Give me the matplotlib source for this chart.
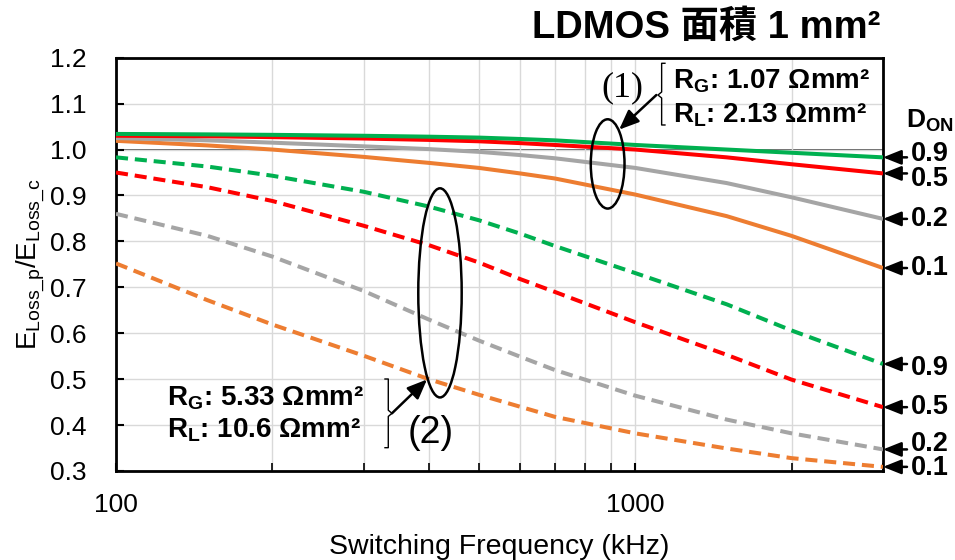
import numpy as np
import matplotlib
matplotlib.use('Agg')
import matplotlib.pyplot as plt
from matplotlib.patches import Ellipse
from matplotlib.ticker import FixedLocator, NullFormatter, FormatStrFormatter

plt.rcParams['font.family'] = ['Liberation Sans', 'DejaVu Sans']
plt.rcParams['mathtext.fontset'] = 'custom'
plt.rcParams['mathtext.rm'] = 'Liberation Sans'
plt.rcParams['mathtext.it'] = 'Liberation Sans:italic'
plt.rcParams['mathtext.bf'] = 'Liberation Sans:bold'

# switching frequency (kHz)
freq_khz = [100, 150, 200, 300, 400, 500, 600, 700, 1000, 1500, 2000, 3000]

# (1) RG = 1.07, RL = 2.13 Ohm mm2 (solid)
solid_09 = [1.034, 1.033, 1.032, 1.030, 1.028, 1.026, 1.023, 1.020, 1.010, 1.000, 0.993, 0.983]
solid_05 = [1.030, 1.029, 1.027, 1.024, 1.021, 1.018, 1.014, 1.010, 1.000, 0.983, 0.968, 0.948]
solid_02 = [1.025, 1.020, 1.015, 1.007, 1.001, 0.995, 0.988, 0.981, 0.960, 0.927, 0.896, 0.849]
solid_01 = [1.019, 1.009, 1.000, 0.984, 0.971, 0.960, 0.948, 0.937, 0.902, 0.855, 0.812, 0.742]

# (2) RG = 5.33, RL = 10.6 Ohm mm2 (dashed)
dash_09 = [0.983, 0.963, 0.943, 0.908, 0.876, 0.846, 0.817, 0.790, 0.731, 0.663, 0.606, 0.533]
dash_05 = [0.950, 0.918, 0.888, 0.834, 0.792, 0.754, 0.718, 0.690, 0.624, 0.553, 0.499, 0.439]
dash_02 = [0.860, 0.812, 0.767, 0.692, 0.630, 0.584, 0.549, 0.520, 0.464, 0.412, 0.382, 0.347]
dash_01 = [0.752, 0.672, 0.619, 0.551, 0.500, 0.466, 0.440, 0.418, 0.382, 0.349, 0.328, 0.309]

don_labels = ['0.9', '0.5', '0.2', '0.1']
colors = ['#00b050', '#ff0000', '#a5a5a5', '#ed7d31']

fig = plt.figure(figsize=(9.55, 5.6), dpi=100)
ax = fig.add_axes([116/955, 1-471/560, 767/955, 413.3/560])

ax.set_xscale('log')
ax.set_xlim(100, 3000)
ax.set_ylim(0.3, 1.2)

ax.xaxis.set_major_locator(FixedLocator([100, 1000]))
ax.xaxis.set_minor_locator(FixedLocator([200, 300, 400, 500, 600, 700, 800, 900, 2000, 3000]))
ax.xaxis.set_major_formatter(FormatStrFormatter('%d'))
ax.xaxis.set_minor_formatter(NullFormatter())
ax.set_yticks(np.arange(0.3, 1.21, 0.1))
ax.yaxis.set_major_formatter(FormatStrFormatter('%.1f'))

ax.grid(which='both', color='#d9d9d9', lw=1.0, zorder=0)
ax.axhline(1.0, color='#404040', lw=1.2, zorder=1)
ax.tick_params(axis='both', which='both', direction='in', labelsize=19)
ax.tick_params(axis='y', length=6, width=1.5, pad=21, right=False)
ax.tick_params(axis='x', which='major', length=6, width=1.5, pad=16, top=False)
ax.tick_params(axis='x', which='minor', length=6, width=1.2, top=False)
for sp in ax.spines.values():
    sp.set_linewidth(2.0)

for ys, c in zip([solid_09, solid_05, solid_02, solid_01][::-1], colors[::-1]):
    ax.plot(freq_khz, ys, color=c, lw=2.9, solid_capstyle='butt', zorder=3)
for ys, c in zip([dash_09, dash_05, dash_02, dash_01][::-1], colors[::-1]):
    ax.plot(freq_khz, ys, color=c, lw=2.9, ls=(0, (3.0, 1.7)), dash_capstyle='butt', zorder=3)

ax.set_xlabel('Switching Frequency (kHz)', fontsize=20.5, labelpad=12)
ax.set_ylabel(r'$\mathrm{E_{Loss\_p}/E_{Loss\_c}}$', fontsize=20, labelpad=2)

# D_ON markers on the right
arrow = dict(arrowstyle='-|>,head_length=0.55,head_width=0.22', mutation_scale=20,
             color='k', lw=1.8, shrinkA=0, shrinkB=0)
ends = [s[-1] for s in [solid_09, solid_05, solid_02, solid_01, dash_09, dash_05, dash_02, dash_01]]
text_dy = [3, -6, 0, 0, -4, 0, 5, -1]
for i, yv in enumerate(ends):
    ax.annotate('', xy=(1.0, yv), xycoords=('axes fraction', 'data'),
                xytext=(24, 0), textcoords='offset pixels', arrowprops=arrow,
                annotation_clip=False)
    ax.annotate(don_labels[i % 4], xy=(1.0, yv), xycoords=('axes fraction', 'data'),
                xytext=(28, text_dy[i]), textcoords='offset pixels',
                ha='left', va='center', fontsize=19.5, fontweight='bold',
                annotation_clip=False)
ax.text(1.030, 0.83, r'$\mathbf{D_{ON}}$', transform=ax.transAxes,
        fontsize=19, ha='left', va='baseline')

# group (1)
ax.add_patch(Ellipse((0.641, 0.743), 0.044, 0.216, transform=ax.transAxes,
                     fill=False, ec='k', lw=1.8, zorder=5, clip_on=False))
ax.plot([0.7157, 0.7114, 0.7114, 0.7066, 0.7114, 0.7114, 0.7157],
        [0.9865, 0.9865, 0.917, 0.9097, 0.9025, 0.8372, 0.8372],
        transform=ax.transAxes, color='k', lw=1.0, zorder=5, clip_on=False)
ax.annotate('', xy=(0.656, 0.826), xycoords='axes fraction',
            xytext=(0.7045, 0.9097), textcoords='axes fraction',
            arrowprops=dict(arrowstyle='-|>,head_length=0.6,head_width=0.25', mutation_scale=20,
                            color='k', lw=1.8, shrinkA=0, shrinkB=0), zorder=5)
ax.text(0.660, 0.928, '(1)', transform=ax.transAxes, fontsize=26,
        family='Liberation Serif', ha='center', va='center', zorder=5)
ax.text(0.7266, 0.942, r'$\mathbf{R_G}$: 1.07 Ωmm²', transform=ax.transAxes,
        fontsize=20, fontweight='bold', ha='left', va='center', zorder=5)
ax.text(0.7266, 0.861, r'$\mathbf{R_L}$: 2.13 Ωmm²', transform=ax.transAxes,
        fontsize=20, fontweight='bold', ha='left', va='center', zorder=5)

# group (2)
ax.add_patch(Ellipse((0.4224, 0.431), 0.0566, 0.506, transform=ax.transAxes,
                     fill=False, ec='k', lw=1.8, zorder=5))
ax.plot([0.3507, 0.355, 0.355, 0.3598, 0.355, 0.355, 0.3507],
        [0.2226, 0.2226, 0.147, 0.1396, 0.132, 0.0564, 0.0564],
        transform=ax.transAxes, color='k', lw=1.0, zorder=5)
ax.annotate('', xy=(0.4055, 0.2215), xycoords='axes fraction',
            xytext=(0.3598, 0.1396), textcoords='axes fraction',
            arrowprops=dict(arrowstyle='-|>,head_length=0.6,head_width=0.25', mutation_scale=20,
                            color='k', lw=1.8, shrinkA=0, shrinkB=0), zorder=5)
ax.text(0.4107, 0.092, '(2)', transform=ax.transAxes, fontsize=27,
        ha='center', va='center', zorder=5)
ax.text(0.066, 0.176, r'$\mathbf{R_G}$: 5.33 Ωmm²', transform=ax.transAxes,
        fontsize=20, fontweight='bold', ha='left', va='center', zorder=5)
ax.text(0.066, 0.099, r'$\mathbf{R_L}$: 10.6 Ωmm²', transform=ax.transAxes,
        fontsize=20, fontweight='bold', ha='left', va='center', zorder=5)

fig.text(0.922, 1 - 38/560, 'LDMOS 面積 1 mm²', ha='right', va='baseline',
         fontsize=27.5, fontweight='bold', family=['Liberation Sans', 'Noto Sans CJK JP'])

fig.savefig('out.png', dpi=100)
